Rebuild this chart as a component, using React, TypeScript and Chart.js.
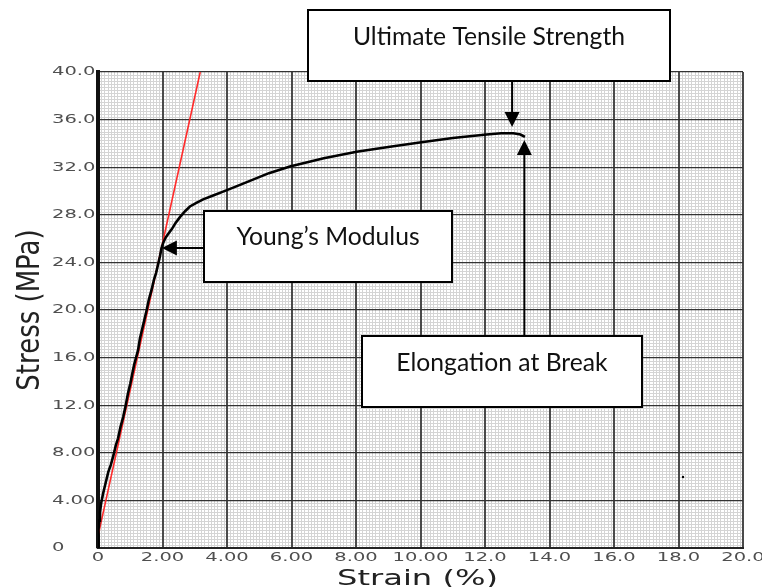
import React, { useEffect, useRef } from "react";
import { Chart, registerables } from "chart.js";

Chart.register(...registerables);

// ---- data ----
const strain = [
  0, 0.01, 0.02, 0.04, 0.06, 0.1, 0.16, 0.24, 0.32, 0.4, 0.48, 0.55, 0.62, 0.7, 0.78, 0.86, 0.93, 1.0,
  1.06, 1.12, 1.18, 1.24, 1.3, 1.37, 1.44, 1.51, 1.57, 1.63, 1.68, 1.74, 1.8, 1.86, 1.92, 1.97, 2.03,
  2.1, 2.18, 2.29, 2.4, 2.54, 2.7, 2.85, 3.05, 3.26, 3.55, 3.88, 4.25, 4.71, 5.3, 5.95, 7.0, 8.02, 9.0,
  10.03, 11.0, 12.05, 12.5, 12.88, 13.1, 13.24,
];
const stress = [
  0, 0.8, 1.5, 2.3, 3.0, 3.8, 4.6, 5.5, 6.4, 7.0, 7.8, 8.6, 9.2, 10.2, 11.0, 12.0, 13.0, 13.8,
  14.6, 15.4, 16.0, 16.6, 17.6, 18.4, 19.2, 20.0, 20.8, 21.4, 21.9, 22.6, 23.1, 23.8, 24.5, 25.2, 25.7,
  26.1, 26.4, 26.8, 27.3, 27.8, 28.3, 28.7, 29.0, 29.3, 29.6, 29.95, 30.35, 30.85, 31.5, 32.05, 32.75,
  33.3, 33.7, 34.1, 34.45, 34.75, 34.85, 34.85, 34.75, 34.55,
];
const tangentStrain = [0, 3.17];
const tangentStress = [1.0, 40];
const speckStrain = [18.14];
const speckStress = [5.97];

const xTickValues = [0, 2, 4, 6, 8, 10, 12, 14, 16, 18, 20];
const xTickLabels = ["0", "2.00", "4.00", "6.00", "8.00", "10.00", "12.0", "14.0", "16.0", "18.0", "20.0"];
const yTickValues = [0, 4, 8, 12, 16, 20, 24, 28, 32, 36, 40];
const yTickLabels = ["0", "4.00", "8.00", "12.0", "16.0", "20.0", "24.0", "28.0", "32.0", "36.0", "40.0"];
const xTitle = "Strain (%)";
const yTitle = "Stress (MPa)";

const annoTexts = ["Ultimate Tensile Strength", "Young\u2019s Modulus", "Elongation at Break"];
const annoTipStrain = [12.84, 1.98, 13.22];
const annoTipStress = [35.38, 25.2, 34.29];

// ---- helpers ----
function stretchedText(ctx: CanvasRenderingContext2D, text: string, x: number, y: number, align: CanvasTextAlign, k: number) {
  ctx.save();
  ctx.translate(x, y);
  ctx.scale(k, 1);
  ctx.textAlign = align;
  ctx.fillText(text, 0, 0);
  ctx.restore();
}

function arrowHead(ctx: CanvasRenderingContext2D, tx: number, ty: number, dir: "down" | "up" | "left") {
  const L = 15, W = 7.5;
  ctx.beginPath();
  if (dir === "down") {
    ctx.moveTo(tx, ty); ctx.lineTo(tx - W, ty - L); ctx.lineTo(tx + W, ty - L);
  } else if (dir === "up") {
    ctx.moveTo(tx, ty); ctx.lineTo(tx - W, ty + L); ctx.lineTo(tx + W, ty + L);
  } else {
    ctx.moveTo(tx, ty); ctx.lineTo(tx + L, ty - W); ctx.lineTo(tx + L, ty + W);
  }
  ctx.closePath();
  ctx.fill();
}

const minorGrid = {
  id: "minorGrid",
  beforeDraw(chart: any) {
    const { ctx, chartArea: a, scales } = chart;
    const xs = scales.x, ys = scales.y;
    ctx.save();
    ctx.fillStyle = "#ffffff";
    ctx.fillRect(a.left, a.top, a.right - a.left, a.bottom - a.top);
    ctx.strokeStyle = "#d4d4d4";
    ctx.lineWidth = 1;
    ctx.beginPath();
    for (let i = 1; i < 200; i++) {
      if (i % 20 === 0) continue;
      const px = Math.round(xs.getPixelForValue(i * 0.1)) + 0.5;
      ctx.moveTo(px, a.top);
      ctx.lineTo(px, a.bottom);
    }
    for (let j = 1; j < 160; j++) {
      if (j % 16 === 0) continue;
      const py = Math.round(ys.getPixelForValue(j * 0.25)) + 0.5;
      ctx.moveTo(a.left, py);
      ctx.lineTo(a.right, py);
    }
    ctx.stroke();
    ctx.restore();
  },
};

const textAndNotes = {
  id: "textAndNotes",
  afterDraw(chart: any) {
    const { ctx, chartArea: a, scales } = chart;
    const xs = scales.x, ys = scales.y;
    ctx.save();
    // tick labels
    ctx.fillStyle = "#4f4f4f";
    ctx.font = '13px "DejaVu Sans"';
    ctx.textBaseline = "middle";
    yTickValues.forEach((v, i) => stretchedText(ctx, yTickLabels[i], a.left - 46, ys.getPixelForValue(v), "left", 1.5));
    xTickValues.forEach((v, i) => stretchedText(ctx, xTickLabels[i], xs.getPixelForValue(v), a.bottom + 10, "center", 1.5));
    // axis titles
    ctx.fillStyle = "#222222";
    ctx.font = '22px "DejaVu Sans"';
    ctx.textBaseline = "alphabetic";
    stretchedText(ctx, xTitle, (a.left + a.right) / 2 - 3, a.bottom + 37, "center", 1.46);
    ctx.save();
    ctx.translate(39, (a.top + a.bottom) / 2);
    ctx.rotate(-Math.PI / 2);
    ctx.scale(1, 1.21);
    ctx.font = '26px "DejaVu Sans"';
    ctx.textAlign = "center";
    ctx.fillText(yTitle, 0, 0);
    ctx.restore();

    // annotation boxes
    const boxes = [
      { x: 308, y: 10, w: 362, h: 71, ty: 45 },
      { x: 204, y: 211, w: 248, h: 71, ty: 245 },
      { x: 362, y: 336, w: 280, h: 71, ty: 371 },
    ];
    ctx.strokeStyle = "#000";
    ctx.fillStyle = "#000";
    ctx.lineWidth = 2;
    // arrows
    const t0x = xs.getPixelForValue(annoTipStrain[0]), t0y = ys.getPixelForValue(annoTipStress[0]);
    const t1x = xs.getPixelForValue(annoTipStrain[1]), t1y = ys.getPixelForValue(annoTipStress[1]);
    const t2x = xs.getPixelForValue(annoTipStrain[2]), t2y = ys.getPixelForValue(annoTipStress[2]);
    ctx.beginPath();
    ctx.moveTo(t0x, boxes[0].y + boxes[0].h); ctx.lineTo(t0x, t0y - 10);
    ctx.moveTo(boxes[1].x, t1y); ctx.lineTo(t1x + 10, t1y);
    ctx.moveTo(t2x, boxes[2].y); ctx.lineTo(t2x, t2y + 10);
    ctx.stroke();
    arrowHead(ctx, t0x, t0y, "down");
    arrowHead(ctx, t1x, t1y, "left");
    arrowHead(ctx, t2x, t2y, "up");

    boxes.forEach((b, i) => {
      ctx.fillStyle = "#ffffff";
      ctx.fillRect(b.x, b.y, b.w, b.h);
      ctx.strokeStyle = "#000000";
      ctx.lineWidth = 2;
      ctx.strokeRect(b.x, b.y, b.w, b.h);
      ctx.fillStyle = "#111111";
      ctx.font = '24.7px "Lato"';
      ctx.textAlign = "center";
      ctx.textBaseline = "alphabetic";
      ctx.fillText(annoTexts[i], b.x + b.w / 2, b.ty);
    });
    ctx.restore();
  },
};

export default function App() {
  const canvasRef = useRef<HTMLCanvasElement | null>(null);

  useEffect(() => {
    if (!canvasRef.current) return;
    const chart = new Chart(canvasRef.current, {
      type: "line",
      data: {
        datasets: [
          {
            label: "Stress-strain",
            data: strain.map((s, i) => ({ x: s, y: stress[i] })),
            borderColor: "#000000",
            borderWidth: 2.6,
            pointRadius: 0,
            tension: 0,
            fill: false,
          },
          {
            label: "Tangent",
            data: tangentStrain.map((s, i) => ({ x: s, y: tangentStress[i] })),
            borderColor: "#ff2a2a",
            borderWidth: 1.6,
            pointRadius: 0,
            tension: 0,
            fill: false,
          },
          {
            label: "Speck",
            data: speckStrain.map((s, i) => ({ x: s, y: speckStress[i] })),
            showLine: false,
            pointRadius: 1.2,
            pointBackgroundColor: "#000",
            pointBorderWidth: 0,
          },
        ],
      },
      options: {
        animation: false,
        responsive: false,
        layout: { padding: { left: 0, top: 72, right: 19, bottom: 0 } },
        plugins: { legend: { display: false }, tooltip: { enabled: false } },
        scales: {
          x: {
            type: "linear",
            min: 0,
            max: 20,
            ticks: { stepSize: 2, display: false },
            grid: { color: "#4a4a4a", lineWidth: 2, drawTicks: false, tickLength: 0 },
            border: { display: true, color: "#222222", width: 2 },
            afterFit: (s: any) => { s.height = 39; },
          },
          y: {
            type: "linear",
            min: 0,
            max: 40,
            ticks: { stepSize: 4, display: false },
            grid: { color: "#333333", lineWidth: 1.3, drawTicks: false, tickLength: 0 },
            border: { display: true, color: "#111111", width: 4 },
            afterFit: (s: any) => { s.width = 98; },
          },
        },
      },
      plugins: [minorGrid, textAndNotes],
    });
    return () => chart.destroy();
  }, []);

  return (
    <div style={{ position: "fixed", left: 0, top: 0, width: 762, height: 587, background: "#fff" }}>
      <canvas ref={canvasRef} width={762} height={587} style={{ display: "block" }} />
    </div>
  );
}
